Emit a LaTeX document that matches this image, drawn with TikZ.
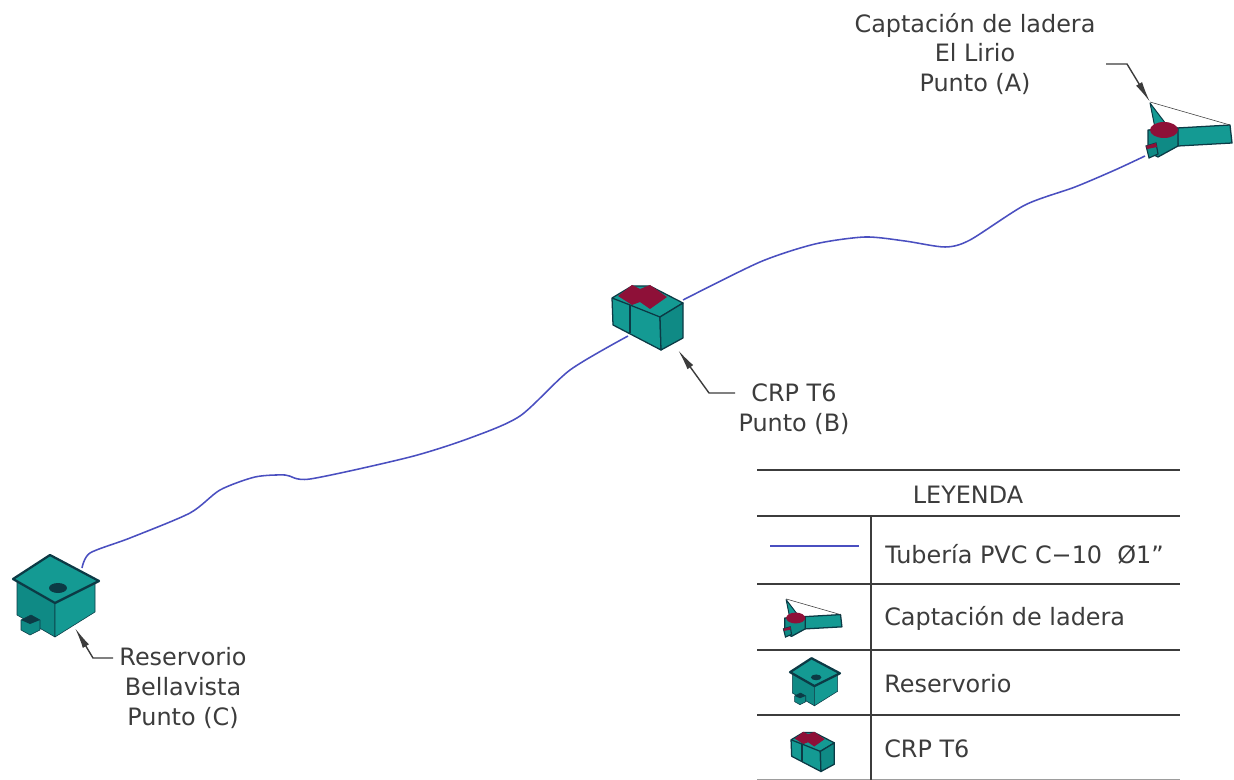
\documentclass[tikz,border=0pt]{standalone}
\usepackage{fontspec}
\setmainfont{DejaVu Sans}
\usetikzlibrary{arrows.meta}
\definecolor{teal1}{HTML}{149A93}
\definecolor{teal2}{HTML}{0F8A85}
\definecolor{wine}{HTML}{8E1038}
\definecolor{edge}{HTML}{0C3A45}
\definecolor{pipe}{HTML}{4A4FC0}
\definecolor{ink}{HTML}{3C3C3C}
\newcommand\iconRes{%
  \filldraw[fill=teal2,draw=edge,line join=round] (17,582)--(17,615)--(55,637)--(55,603)--cycle;
  \filldraw[fill=teal1,draw=edge,line join=round] (95,582)--(95,612)--(55,637)--(55,603)--cycle;
  \filldraw[fill=teal1,draw=edge,line width=1.6pt,line join=round] (13,579)--(50,555)--(99,581)--(55,603)--cycle;
  \fill[edge] (58,588) ellipse (9 and 5);
  \filldraw[fill=teal2,draw=edge,line join=round] (21,620)--(31,615)--(40,620)--(40,630)--(30,635)--(21,630)--cycle;
  \fill[edge] (21,620)--(31,615)--(40,620)--(30,624)--cycle;
}
\newcommand\iconCrp{%
  \filldraw[fill=teal1,draw=edge,line width=.9pt,line join=round] (612,298)--(632,286)--(650,286)--(683,303)--(660,317)--(661,350)--(613,325)--cycle;
  \fill[wine] (618,296)--(632,285)--(640,289)--(650,285)--(667,297)--(650,309)--(640,302)--(632,305)--cycle;
  \filldraw[fill=teal2,draw=edge,line width=.9pt,line join=round] (683,303)--(683,338)--(661,350)--(660,317)--cycle;
  \draw[edge,line width=.9pt] (612,298)--(630,305)--(660,317);
  \draw[edge,line width=.9pt] (630,305)--(630,333);
}
\newcommand\iconCap{%
  \filldraw[fill=teal1,draw=edge,line width=.7pt,line join=round] (1150,103)--(1166,124)--(1155,128)--cycle;
  \filldraw[fill=teal1,draw=edge,line width=.9pt,line join=round] (1177,128)--(1230,125)--(1232,143)--(1178,146)--cycle;
  \draw[ink] (1150,102)--(1230,125);
  \filldraw[fill=teal2,draw=edge,line width=.9pt,line join=round] (1148,130)--(1178,128)--(1178,146)--(1158,157)--(1148,152)--cycle;
  \fill[wine] (1164,130) ellipse (14 and 8);
  \filldraw[fill=teal2,draw=edge,line width=.8pt] (1146,146)--(1156,143)--(1158,154)--(1149,158)--cycle;
  \fill[wine] (1146,146)--(1156,143)--(1157,147)--(1147,149)--cycle;
}
\tikzset{
  lbl/.style={font=\fontsize{17}{21.3}\selectfont,text=ink,align=center,inner sep=0pt},
  rule/.style={draw=ink,line width=1.1pt},
  lead/.style={draw=ink,line width=1pt,-{Latex[length=15,width=5]}},
  tube/.style={draw=pipe,line width=1.1pt}
}
\begin{document}
\begin{tikzpicture}[x=0.025cm,y=-0.025cm]
\useasboundingbox (0,0) rectangle (1234,780);
% pipes
\coordinate (pC) at (82,568);
\coordinate (pB1) at (628,336);
\coordinate (pB2) at (683,300);
\coordinate (pA) at (1145,156);
\draw[tube] plot[smooth,tension=.45] coordinates {(pC) (90,553) (130,538) (190,513) (220,490) (255,477) (285,475) (310,479) (410,457) (470,438) (520,416) (570,370) (pB1)};
\draw[tube] plot[smooth,tension=.45] coordinates {(pB2) (760,262) (815,244) (865,237) (905,241) (945,247) (970,240) (1025,205) (1075,187) (1115,170) (pA)};
% icons
\iconRes \iconCrp \iconCap
% labels
\node[lbl] (tA) at (975,54) {Captación de ladera\\El Lirio\\Punto (A)};
\node[lbl] (tB) at (794,409) {CRP T6\\Punto (B)};
\node[lbl] (tC) at (183,688) {Reservorio\\Bellavista\\Punto (C)};
% leaders
\coordinate (a0) at (1106,64); \coordinate (a1) at (1127,64); \coordinate (a2) at (1150,102);
\draw[lead] (a0)--(a1)--(a2);
\coordinate (b0) at (735,393); \coordinate (b1) at (709,393); \coordinate (b2) at (678,350);
\draw[lead] (b0)--(b1)--(b2);
\coordinate (c0) at (113,658); \coordinate (c1) at (93,658); \coordinate (c2) at (75,628);
\draw[lead] (c0)--(c1)--(c2);
% legend
\coordinate (l1a) at (757,470); \coordinate (l1b) at (1180,470);
\coordinate (l2a) at (757,516); \coordinate (l2b) at (1180,516);
\coordinate (l3a) at (757,584); \coordinate (l3b) at (1180,584);
\coordinate (l4a) at (757,650); \coordinate (l4b) at (1180,650);
\coordinate (l5a) at (757,715); \coordinate (l5b) at (1180,715);
\coordinate (l6a) at (757,780); \coordinate (l6b) at (1180,780);
\coordinate (v1) at (871,516); \coordinate (v2) at (871,780);
\draw[rule] (l1a)--(l1b); \draw[rule] (l2a)--(l2b); \draw[rule] (l3a)--(l3b); \draw[rule] (l4a)--(l4b); \draw[rule] (l5a)--(l5b);
\draw[rule,draw=ink!50] (l6a)--(l6b);
\draw[rule] (v1)--(v2);
\node[lbl] (h) at (968,495) {LEYENDA};
\coordinate (s1) at (770,546); \coordinate (s2) at (859,546);
\draw[tube] (s1)--(s2);
\node[lbl,anchor=west] (r1) at (885,554) {Tubería PVC C−10\ \ Ø1"};
\node[lbl,anchor=west] (r2) at (884,618) {Captación de ladera};
\node[lbl,anchor=west] (r3) at (884,684) {Reservorio};
\node[lbl,anchor=west] (r4) at (884,749) {CRP T6};
\begin{scope}[shift={(813,618)},scale=.68,shift={(-1189.5,-130)}]\iconCap\end{scope}
\begin{scope}[shift={(815,682)},scale=.58,shift={(-56,-596)}]\iconRes\end{scope}
\begin{scope}[shift={(813,752)},scale=.61,shift={(-648,-318)}]\iconCrp\end{scope}
\end{tikzpicture}
\end{document}
